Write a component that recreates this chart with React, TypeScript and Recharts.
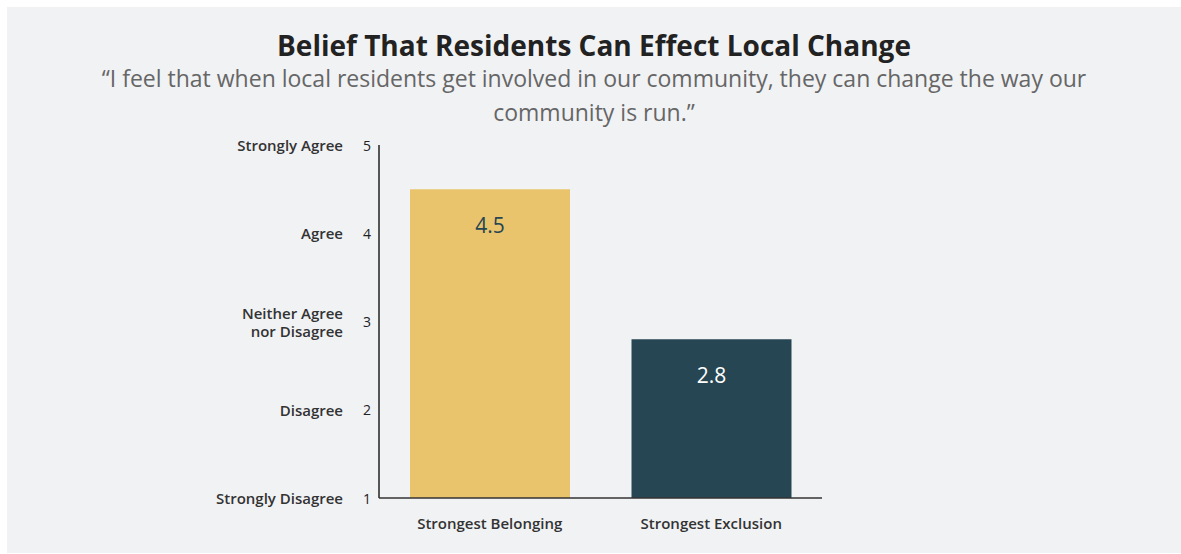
import React from "react";
import { BarChart, Bar, XAxis, YAxis, Cell, LabelList } from "recharts";

const categories = ["Strongest Belonging", "Strongest Exclusion"];
const values = [4.5, 2.8];
const barColors = ["#EAC46C", "#264653"];
const valueLabelColors = ["#264653", "#FFFFFF"];
const yTicks = [1, 2, 3, 4, 5];
const yTickLabels: Record<number, string[]> = {
  1: ["Strongly Disagree"],
  2: ["Disagree"],
  3: ["Neither Agree", "nor Disagree"],
  4: ["Agree"],
  5: ["Strongly Agree"],
};

const data = categories.map((c, i) => ({ name: c, value: values[i] }));

const FONT = "'Open Sans', Lato, sans-serif";

const YTick = (props: any) => {
  const { x, y, payload } = props;
  const lines = yTickLabels[payload.value] || [];
  const lh = 18;
  const start = y - ((lines.length - 1) * lh) / 2;
  return (
    <g>
      <text x={x - 8} y={y} textAnchor="end" dominantBaseline="central" fontSize={14} fill="#222" fontFamily={FONT}>
        {payload.value}
      </text>
      {lines.map((l, i) => (
        <text key={i} x={x - 36} y={start + i * lh} textAnchor="end" dominantBaseline="central" fontSize={15} fontWeight={600} fill="#333" fontFamily={FONT}>
          {l}
        </text>
      ))}
    </g>
  );
};

const XTick = (props: any) => {
  const { x, y, payload } = props;
  return (
    <text x={x} y={y + 25} textAnchor="middle" dominantBaseline="central" fontSize={15} fontWeight={600} fill="#333" fontFamily={FONT}>
      {payload.value}
    </text>
  );
};

const ValueLabel = (props: any) => {
  const { x, y, width, value, index } = props;
  return (
    <text x={x + width / 2} y={y + 36} textAnchor="middle" dominantBaseline="central" fontSize={21} fill={valueLabelColors[index]} fontFamily={FONT}>
      {value}
    </text>
  );
};

export default function App() {
  return (
    <div style={{ position: "absolute", left: 7, top: 7, width: 1174, height: 546, background: "#F1F2F4", fontFamily: FONT }}>
      <div style={{ position: "absolute", top: 20, left: 0, width: 1174, textAlign: "center", fontSize: 28, fontWeight: 700, color: "#222", lineHeight: "36px" }}>
        Belief That Residents Can Effect Local Change
      </div>
      <div style={{ position: "absolute", top: 54, left: 50, width: 1074, textAlign: "center", fontSize: 23, color: "#666", lineHeight: "34px" }}>
        “I feel that when local residents get involved in our community, they can change the way our community is run.”
      </div>
      <div style={{ position: "absolute", top: 0, left: 0 }}>
        <BarChart width={1174} height={546} data={data} margin={{ top: 138, right: 359, bottom: 0, left: 172 }}>
          <YAxis
            type="number"
            domain={[1, 5]}
            ticks={yTicks}
            width={200}
            axisLine={{ stroke: "#222", strokeWidth: 1.5 }}
            tickLine={false}
            tickSize={0}
            tickMargin={0}
            tick={<YTick />}
            interval={0}
          />
          <XAxis
            dataKey="name"
            axisLine={{ stroke: "#333", strokeWidth: 1.5 }}
            tickLine={false}
            tickSize={0}
            tickMargin={0}
            tick={<XTick />}
            height={55}
          />
          <Bar dataKey="value" barSize={160} isAnimationActive={false}>
            {data.map((d, i) => (
              <Cell key={d.name} fill={barColors[i]} />
            ))}
            <LabelList dataKey="value" content={<ValueLabel />} />
          </Bar>
        </BarChart>
      </div>
    </div>
  );
}
